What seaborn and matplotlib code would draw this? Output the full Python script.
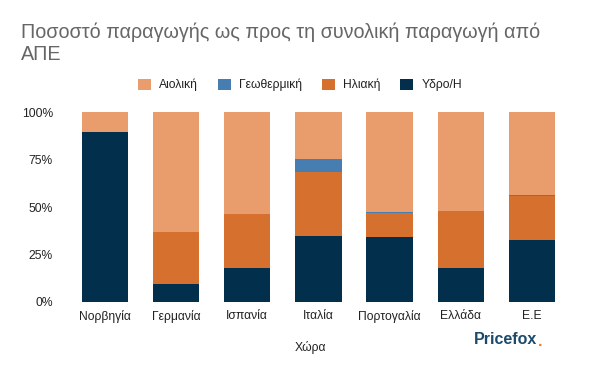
import matplotlib.pyplot as plt
import seaborn as sns
import numpy as np
import pandas as pd

# Data (percent of renewable production)
countries = ['Νορβηγία', 'Γερμανία', 'Ισπανία', 'Ιταλία', 'Πορτογαλία', 'Ελλάδα', 'Ε.Ε']
hydro = [89.5, 9.5, 17.9, 34.7, 34.2, 17.9, 32.6]
solar = [0.0, 27.3, 28.4, 33.7, 12.6, 30.0, 23.2]
geothermal = [0.0, 0.0, 0.0, 6.8, 0.6, 0.0, 0.5]
wind = [10.5, 63.2, 53.7, 24.8, 52.6, 52.1, 43.7]

series_names = ['Αιολική', 'Γεωθερμική', 'Ηλιακή', 'Υδρο/Η']
colors = ['#EA9D6C', '#477EB1', '#D6702F', '#02304C']

sns.set_theme(style='white')
plt.rcParams['font.family'] = ['Liberation Sans', 'DejaVu Sans']

df = pd.DataFrame({'country': countries, 'hydro': hydro, 'solar': solar,
                   'geo': geothermal, 'wind': wind})
# cumulative tops so that the bars can be layered front to back
df['c_hydro'] = df['hydro']
df['c_solar'] = df['c_hydro'] + df['solar']
df['c_geo'] = df['c_solar'] + df['geo']
df['c_wind'] = df['c_geo'] + df['wind']

fig = plt.figure(figsize=(6, 3.71), dpi=100)
ax = fig.add_axes([0.1157, 0.186, 0.83, 0.512])

for col, name, c in zip(['c_wind', 'c_geo', 'c_solar', 'c_hydro'], series_names, colors):
    sns.barplot(data=df, x='country', y=col, color=c, width=0.65, saturation=1,
                label=name, ax=ax, errorbar=None, linewidth=0, edgecolor='none')

ax.set_xlim(-0.5, 6.5)
ax.set_ylim(0, 100)
ax.set_yticks([0, 25, 50, 75, 100])
ax.set_yticklabels(['0%', '25%', '50%', '75%', '100%'])
sns.despine(ax=ax, left=True, bottom=True)
ax.tick_params(axis='y', length=0, pad=12, labelsize=8.7, labelcolor='#222222')
ax.tick_params(axis='x', length=0, pad=6, labelsize=8.7, labelcolor='#222222')
ax.set_ylabel('')
ax.set_xlabel('Χώρα', fontsize=8.7, color='#222222')
ax.xaxis.set_label_coords((310 - 69.4) / 498, -(348 - 302) / 190, transform=ax.transAxes)
ax.xaxis.label.set_va('center')

ax.get_legend().remove()
handles, labels = ax.get_legend_handles_labels()
fig.legend(handles, labels, ncol=4, loc='center', bbox_to_anchor=(300 / 600, 1 - 85 / 371),
           frameon=False, fontsize=8.7, handlelength=1.1, handleheight=1.1,
           columnspacing=1.6, handletextpad=0.7, labelcolor='#222222')

fig.text(21 / 600, 1 - 22 / 371, 'Ποσοστό παραγωγής ως προς τη συνολική παραγωγή από\nΑΠΕ',
         fontsize=14.2, color='#666666', ha='left', va='top', linespacing=1.25)

# Pricefox watermark
fig.text(474 / 600, 1 - 340 / 371, 'Pricefox', fontsize=11.5, fontweight='bold',
         color='#1B4A6B', ha='left', va='center')
fig.text(538 / 600, 1 - 342 / 371, '.', fontsize=11.5, fontweight='bold',
         color='#F07A2A', ha='left', va='center')

plt.savefig('out.png', dpi=100)
